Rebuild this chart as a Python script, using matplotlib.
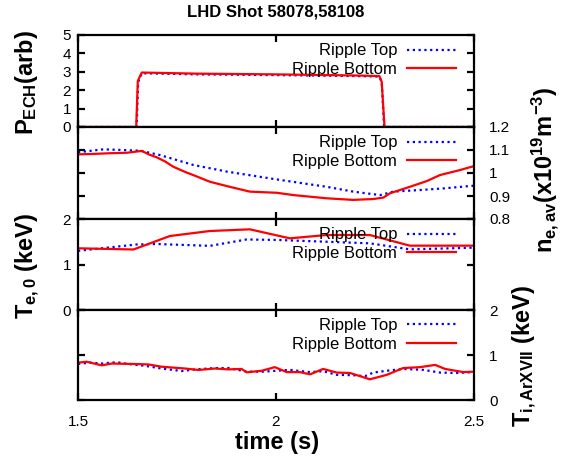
import matplotlib
matplotlib.use("Agg")
import matplotlib.pyplot as plt

plt.rcParams['font.family'] = ['Liberation Sans', 'DejaVu Sans']
plt.rcParams['mathtext.fontset'] = 'custom'
plt.rcParams['mathtext.rm'] = 'Liberation Sans'
plt.rcParams['mathtext.bf'] = 'Liberation Sans:bold'
plt.rcParams['mathtext.it'] = 'Liberation Sans:italic'

title = "LHD Shot 58078,58108"
series_names = ["Ripple Top", "Ripple Bottom"]

# Panel 1: P_ECH (arb)
t_p_top = [1.5, 1.648, 1.652, 1.661, 1.8, 2.0, 2.2, 2.261, 2.267, 2.273, 2.5]
p_top = [0, 0, 2.45, 2.92, 2.86, 2.82, 2.77, 2.74, 2.42, 0, 0]
t_p_bot = [1.5, 1.647, 1.651, 1.661, 1.8, 2.0, 2.2, 2.261, 2.267, 2.274, 2.5]
p_bot = [0, 0, 2.5, 2.96, 2.9, 2.86, 2.8, 2.77, 2.45, 0, 0]

# Panel 2: n_e,av (x10^19 m^-3)
t_n_top = [1.5, 1.564, 1.657, 1.707, 1.791, 1.876, 2.002, 2.128, 2.195, 2.263,
           2.296, 2.364, 2.423, 2.5]
n_top = [1.09, 1.103, 1.097, 1.078, 1.035, 1.006, 0.972, 0.940, 0.919, 0.904,
         0.919, 0.926, 0.933, 0.945]
t_n_bot = [1.5, 1.54, 1.581, 1.623, 1.661, 1.68, 1.699, 1.72, 1.741, 1.77, 1.791,
           1.833, 1.876, 1.934, 2.002, 2.044, 2.128, 2.195, 2.246, 2.271, 2.288,
           2.338, 2.381, 2.414, 2.465, 2.5]
n_bot = [1.081, 1.083, 1.086, 1.088, 1.096, 1.08, 1.068, 1.05, 1.027, 1.005, 0.991,
         0.962, 0.943, 0.919, 0.914, 0.904, 0.890, 0.883, 0.887, 0.893, 0.912,
         0.940, 0.965, 0.991, 1.013, 1.030]

# Panel 3: T_e,0 (keV)
t_te_top = [1.5, 1.648, 1.70, 1.833, 1.926, 2.002, 2.128, 2.237, 2.338, 2.5]
te_top = [1.30, 1.44, 1.45, 1.41, 1.55, 1.54, 1.50, 1.465, 1.333, 1.37]
t_te_bot = [1.5, 1.64, 1.732, 1.833, 1.934, 2.035, 2.128, 2.237, 2.338, 2.5]
te_bot = [1.356, 1.33, 1.626, 1.736, 1.773, 1.575, 1.648, 1.648, 1.414, 1.414]

# Panel 4: T_i,ArXVII (keV)
t_ti_top = [1.5, 1.53, 1.56, 1.598, 1.627, 1.669, 1.711, 1.762, 1.796, 1.846,
            1.88, 1.926, 1.97, 2.0, 2.035, 2.086, 2.119, 2.153, 2.195, 2.225,
            2.246, 2.28, 2.321, 2.372, 2.414, 2.456, 2.5]
ti_top = [0.80, 0.83, 0.81, 0.84, 0.80, 0.76, 0.70, 0.644, 0.68, 0.71,
          0.71, 0.63, 0.63, 0.65, 0.67, 0.62, 0.64, 0.56, 0.55, 0.53,
          0.61, 0.65, 0.69, 0.67, 0.61, 0.60, 0.62]
t_ti_bot = [1.5, 1.522, 1.56, 1.585, 1.644, 1.678, 1.711, 1.77, 1.804, 1.846,
            1.88, 1.913, 1.926, 1.964, 1.997, 2.027, 2.06, 2.086, 2.119, 2.153,
            2.187, 2.237, 2.28, 2.321, 2.364, 2.402, 2.427, 2.473, 2.5]
ti_bot = [0.83, 0.85, 0.77, 0.81, 0.80, 0.79, 0.74, 0.70, 0.667, 0.70,
          0.68, 0.69, 0.615, 0.65, 0.73, 0.62, 0.62, 0.57, 0.69, 0.61,
          0.60, 0.46, 0.56, 0.71, 0.73, 0.78, 0.69, 0.62, 0.63]

x_ticks = [1.5, 2.0, 2.5]
x_ticklabels = ["1.5", "2", "2.5"]

W, H = 568, 461
fig = plt.figure(figsize=(W / 100, H / 100), dpi=100)

left_px, right_px = 78, 474
bounds_px = [35, 127, 219, 310, 400]

c_top = '#0000ff'
c_bot = '#ff0000'

axes = []
for i in range(4):
    top, bot = bounds_px[i], bounds_px[i + 1]
    ax = fig.add_axes([left_px / W, 1 - bot / H, (right_px - left_px) / W, (bot - top) / H])
    axes.append(ax)

panels = [
    (t_p_top, p_top, t_p_bot, p_bot, (0, 5)),
    (t_n_top, n_top, t_n_bot, n_bot, (0.8, 1.2)),
    (t_te_top, te_top, t_te_bot, te_bot, (0, 2)),
    (t_ti_top, ti_top, t_ti_bot, ti_bot, (0, 2)),
]

for i, (ax, (tt, yt, tb, yb, ylim)) in enumerate(zip(axes, panels)):
    ax.plot(tt, yt, color=c_top, lw=1.6, linestyle=(0, (1, 1.6)), label=series_names[0])
    ax.plot(tb, yb, color=c_bot, lw=1.6, label=series_names[1])
    ax.set_xlim(1.5, 2.5)
    ax.set_ylim(*ylim)
    for s in ax.spines.values():
        s.set_linewidth(1.6)
    ax.set_xticks(x_ticks)
    ax.tick_params(axis='both', direction='in', length=5, width=1.6,
                   top=True, bottom=True, left=True, right=True, labelsize=11)
    if i == 3:
        ax.set_xticklabels(x_ticklabels)
        ax.tick_params(axis='x', pad=11)
    else:
        ax.set_xticklabels([])
    ax.legend(loc='upper right', bbox_to_anchor=(0.962, 0.945), markerfirst=False,
              frameon=False, fontsize=12, handlelength=2.9, handletextpad=0.6,
              labelspacing=0.2, borderaxespad=0.0, borderpad=0.2)

# y ticks
axes[0].set_yticks([0, 1, 2, 3, 4, 5])
axes[0].tick_params(axis='y', labelleft=True, labelright=False, pad=5)

axes[1].set_yticks([0.8, 0.9, 1.0, 1.1, 1.2])
axes[1].set_yticklabels(["0.8", "0.9", "1", "1.1", "1.2"])
axes[1].tick_params(axis='y', labelleft=False, labelright=True, pad=11)

axes[2].set_yticks([0, 1, 2])
axes[2].tick_params(axis='y', labelleft=True, labelright=False, pad=5)

axes[3].set_yticks([0, 1, 2])
axes[3].tick_params(axis='y', labelleft=False, labelright=True, pad=11)

# labels
fig.text(276 / W, 1 - 12 / H, title, ha='center', va='center', fontsize=12, fontweight='bold')
fig.text(277 / W, 1 - 442 / H, "time (s)", ha='center', va='center', fontsize=17, fontweight='bold')
fig.text(27 / W, 1 - 83 / H, r'P$_{\mathbf{ECH}}$(arb)', rotation=90, ha='center', va='center',
         fontsize=17, fontweight='bold')
fig.text(28 / W, 1 - 266 / H, r'T$_{\mathbf{e,0}}$ (keV)', rotation=90, ha='center', va='center',
         fontsize=17, fontweight='bold')
fig.text(545 / W, 1 - 170 / H, r'n$_{\mathbf{e,av}}$(x10$^{\mathbf{19}}$m$^{\mathbf{-3}}$)', rotation=90,
         ha='center', va='center', fontsize=17, fontweight='bold')
fig.text(525 / W, 1 - 356 / H, r'T$_{\mathbf{i,ArXVII}}$ (keV)', rotation=90, ha='center', va='center',
         fontsize=17, fontweight='bold')

fig.savefig("out.png", dpi=100)
